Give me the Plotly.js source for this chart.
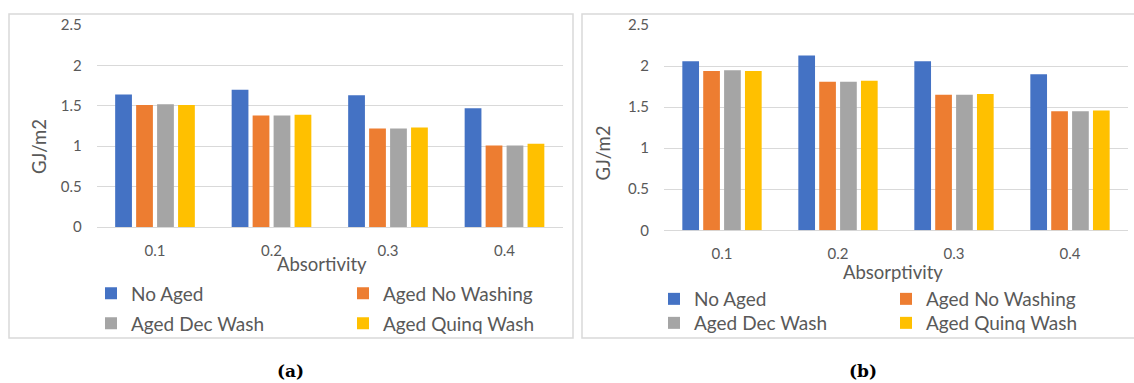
<!DOCTYPE html>
<html>
<head>
<meta charset="utf-8">
<script src="https://cdn.plot.ly/plotly-3.0.1.min.js"></script>
<style>
  html, body { margin: 0; padding: 0; background: #ffffff; }
  #chart { width: 1134px; height: 383px; }
</style>
</head>
<body>
<div id="chart"></div>
<script>
// Absorptivity categories shared by both panels
const absorptivity = ['0.1', '0.2', '0.3', '0.4'];

// Series names
const seriesNames = ['No Aged', 'Aged No Washing', 'Aged Dec Wash', 'Aged Quinq Wash'];

// Panel (a) values, GJ/m2
const noAgedA      = [1.64, 1.70, 1.63, 1.47];
const agedNoWashA  = [1.51, 1.38, 1.22, 1.01];
const agedDecWashA = [1.52, 1.38, 1.22, 1.01];
const agedQuinqA   = [1.51, 1.39, 1.23, 1.03];

// Panel (b) values, GJ/m2
const noAgedB      = [2.06, 2.13, 2.06, 1.90];
const agedNoWashB  = [1.94, 1.81, 1.65, 1.45];
const agedDecWashB = [1.95, 1.81, 1.65, 1.45];
const agedQuinqB   = [1.94, 1.82, 1.66, 1.46];

const seriesColors = ['#4472C4', '#ED7D31', '#A5A5A5', '#FFC000'];

const W = 1134, H = 383;
const px = x => x / W;          // pixel column -> paper x
const py = y => 1 - y / H;      // pixel row -> paper y

const textGray = '#595959';
const gridGray = '#D9D9D9';
const fontFamily = 'Lato, "Open Sans", sans-serif';

const panelA = [noAgedA, agedNoWashA, agedDecWashA, agedQuinqA];
const panelB = [noAgedB, agedNoWashB, agedDecWashB, agedQuinqB];

const traces = [];
panelA.forEach((vals, i) => {
  traces.push({
    type: 'bar', x: absorptivity, y: vals, name: seriesNames[i],
    marker: { color: seriesColors[i] },
    xaxis: 'x', yaxis: 'y',
    legend: i === 0 ? 'legend' : 'legend' + (i + 1)
  });
});
panelB.forEach((vals, i) => {
  traces.push({
    type: 'bar', x: absorptivity, y: vals, name: seriesNames[i],
    marker: { color: seriesColors[i] },
    xaxis: 'x2', yaxis: 'y2',
    legend: 'legend' + (i + 5)
  });
});

const yAxisBase = {
  range: [0, 2.5], dtick: 0.5, tick0: 0,
  showgrid: true, gridcolor: gridGray, gridwidth: 1,
  zeroline: true, zerolinecolor: gridGray, zerolinewidth: 1,
  showline: false, ticks: '',
  ticklabelstandoff: 14,
  tickfont: { family: fontFamily, size: 15, color: textGray },
  fixedrange: true
};
const xAxisBase = {
  type: 'category', range: [-0.5, 3.5],
  showgrid: false, zeroline: false, showline: false, ticks: '',
  ticklabelstandoff: 13,
  tickfont: { family: fontFamily, size: 15, color: textGray },
  fixedrange: true
};

const legendFont = { family: fontFamily, size: 19, color: textGray };
function legendAt(x, y) {
  return {
    x: px(x), y: py(y), xanchor: 'left', yanchor: 'middle',
    orientation: 'h', bgcolor: 'rgba(0,0,0,0)', borderwidth: 0,
    font: legendFont, itemclick: false, itemdoubleclick: false
  };
}

const titleFont = { family: fontFamily, size: 18.5, color: textGray };
const captionFont = { family: '"DejaVu Serif", serif', size: 17, color: '#000000' };

const layout = {
  width: W, height: H,
  margin: { l: 0, r: 0, t: 0, b: 0 },
  paper_bgcolor: '#ffffff', plot_bgcolor: 'rgba(0,0,0,0)',
  barmode: 'group', bargap: 0.28, bargroupgap: 0.2,
  showlegend: true,
  xaxis:  Object.assign({}, xAxisBase, { domain: [px(96.75), px(562.75)], anchor: 'y' }),
  yaxis:  Object.assign({}, yAxisBase, { domain: [py(227), py(25)], anchor: 'x' }),
  xaxis2: Object.assign({}, xAxisBase, { domain: [px(664), px(1128)], anchor: 'y2' }),
  yaxis2: Object.assign({}, yAxisBase, { domain: [py(230.3), py(25)], anchor: 'x2' }),
  legend:  legendAt(91, 293.5),
  legend2: legendAt(343, 293.5),
  legend3: legendAt(91, 323.5),
  legend4: legendAt(343, 323.5),
  legend5: legendAt(654, 299),
  legend6: legendAt(886, 299),
  legend7: legendAt(654, 323),
  legend8: legendAt(886, 323),
  shapes: [
    { type: 'rect', xref: 'paper', yref: 'paper', x0: px(9), x1: px(573), y0: py(338), y1: py(14),
      line: { color: gridGray, width: 1.5 }, fillcolor: 'rgba(0,0,0,0)', layer: 'below' },
    { type: 'rect', xref: 'paper', yref: 'paper', x0: px(582), x1: px(1145), y0: py(338), y1: py(14),
      line: { color: gridGray, width: 1.5 }, fillcolor: 'rgba(0,0,0,0)', layer: 'below' }
  ],
  annotations: [
    { text: 'GJ/m2', textangle: -90, xref: 'paper', yref: 'paper', x: px(39), y: py(147),
      xanchor: 'center', yanchor: 'middle', showarrow: false, font: titleFont },
    { text: 'Absortivity', xref: 'paper', yref: 'paper', x: px(322), y: py(264),
      xanchor: 'center', yanchor: 'middle', showarrow: false, font: titleFont },
    { text: 'GJ/m2', textangle: -90, xref: 'paper', yref: 'paper', x: px(603), y: py(153.5),
      xanchor: 'center', yanchor: 'middle', showarrow: false, font: titleFont },
    { text: 'Absorptivity', xref: 'paper', yref: 'paper', x: px(893), y: py(271.5),
      xanchor: 'center', yanchor: 'middle', showarrow: false, font: titleFont },
    { text: '<b>(a)</b>', xref: 'paper', yref: 'paper', x: px(290), y: py(371),
      xanchor: 'center', yanchor: 'middle', showarrow: false, font: captionFont },
    { text: '<b>(b)</b>', xref: 'paper', yref: 'paper', x: px(863), y: py(371),
      xanchor: 'center', yanchor: 'middle', showarrow: false, font: captionFont }
  ]
};

Plotly.newPlot('chart', traces, layout, { staticPlot: true, displayModeBar: false });
</script>
</body>
</html>
